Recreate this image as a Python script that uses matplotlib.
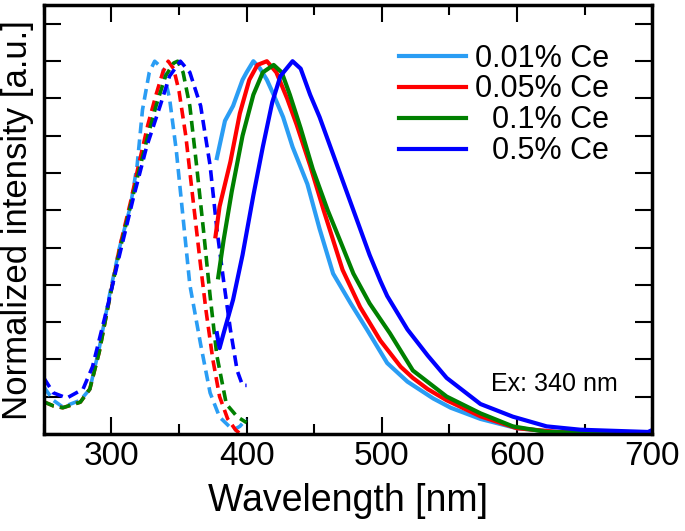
import matplotlib
matplotlib.use("Agg")
import matplotlib.pyplot as plt
from matplotlib.ticker import MultipleLocator

plt.rcParams['font.family'] = ['Liberation Sans', 'DejaVu Sans']

labels = ['0.01% Ce', '0.05% Ce', '  0.1% Ce', '  0.5% Ce']
colors = ['#2a9df4', '#ff0000', '#008000', '#0000ff']

# excitation spectra (dashed)
ex_x = [
    [250, 257, 264, 277, 284, 291, 299, 306, 314, 319, 323, 328, 332, 338, 343,
     348, 353, 358, 366, 373, 380, 390, 395, 400],
    [250, 257, 264, 277, 284, 291, 299, 306, 314, 320, 327, 333, 338, 342, 346,
     350, 355, 360, 366, 370, 375, 380, 386, 392, 397],
    [250, 257, 264, 277, 284, 291, 299, 306, 314, 320, 327, 333, 340, 346, 349,
     353, 358, 363, 368, 373, 378, 385, 393, 400],
    [250, 257, 267, 279, 286, 297, 306, 316, 326, 336, 343, 351, 358, 366, 373,
     378, 383, 388, 393, 397, 400],
]
ex_y = [
    [0.126, 0.09, 0.072, 0.09, 0.12, 0.23, 0.38, 0.50, 0.61, 0.72, 0.87, 0.97,
     1.0, 0.98, 0.90, 0.76, 0.58, 0.40, 0.24, 0.11, 0.045, 0.01, 0.02, 0.04],
    [0.086, 0.075, 0.07, 0.085, 0.12, 0.22, 0.37, 0.50, 0.62, 0.72, 0.83, 0.91,
     0.97, 1.0, 0.98, 0.92, 0.80, 0.64, 0.45, 0.33, 0.20, 0.10, 0.04, 0.01, -0.005],
    [0.086, 0.075, 0.07, 0.085, 0.12, 0.22, 0.37, 0.49, 0.61, 0.70, 0.80, 0.88,
     0.96, 0.995, 1.0, 0.97, 0.88, 0.72, 0.55, 0.37, 0.21, 0.08, 0.046, 0.03],
    [0.15, 0.11, 0.096, 0.12, 0.18, 0.34, 0.48, 0.63, 0.77, 0.88, 0.96, 1.0,
     0.97, 0.88, 0.72, 0.55, 0.41, 0.28, 0.17, 0.13, 0.13],
]

# emission spectra (solid)
em_x = [
    [378, 384, 390, 397, 400, 405, 410, 415, 420, 427, 434, 445, 454, 464, 477,
     489, 504, 519, 538, 551, 573, 600, 630, 660, 700],
    [377, 380, 388, 395, 402, 408, 415, 422, 430, 437, 447, 457, 464, 471, 484,
     499, 514, 523, 534, 548, 573, 600, 630, 700],
    [379, 383, 389, 397, 405, 412, 420, 426, 432, 440, 449, 460, 469, 479, 491,
     506, 523, 548, 573, 597, 622, 700],
    [378, 380, 383, 390, 397, 405, 412, 419, 425, 434, 440, 447, 454, 464, 474,
     484, 491, 499, 504, 519, 534, 548, 573, 597, 622, 647, 697, 700],
]
em_y = [
    [0.74, 0.84, 0.88, 0.95, 0.97, 1.0, 0.98, 0.95, 0.91, 0.85, 0.77, 0.67, 0.55,
     0.43, 0.35, 0.28, 0.19, 0.14, 0.095, 0.07, 0.04, 0.015, 0.005, 0.0, 0.0],
    [0.53, 0.61, 0.73, 0.86, 0.95, 0.99, 1.0, 0.97, 0.90, 0.83, 0.72, 0.60, 0.52,
     0.44, 0.34, 0.25, 0.18, 0.15, 0.12, 0.09, 0.047, 0.015, 0.005, 0.0],
    [0.42, 0.52, 0.65, 0.80, 0.91, 0.97, 0.99, 0.97, 0.91, 0.82, 0.71, 0.60, 0.52,
     0.43, 0.35, 0.27, 0.17, 0.10, 0.055, 0.02, 0.005, 0.0],
    [0.27, 0.23, 0.27, 0.36, 0.48, 0.64, 0.77, 0.89, 0.96, 1.0, 0.98, 0.91, 0.85,
     0.75, 0.65, 0.55, 0.48, 0.41, 0.37, 0.28, 0.21, 0.15, 0.08, 0.046, 0.02,
     0.011, 0.005, 0.01],
]

fig = plt.figure(figsize=(6.85, 5.31), dpi=100)
ax = fig.add_axes([0.064, 0.183, 0.888, 0.807])

for i in range(4):
    ax.plot(ex_x[i], ex_y[i], color=colors[i], lw=2.6, linestyle=(0, (3, 1.7)))
for i in range(4):
    ax.plot(em_x[i], em_y[i], color=colors[i], lw=3, label=labels[i])

ax.set_xlim(250, 700)
ax.set_ylim(0, 1.15)
ax.xaxis.set_major_locator(MultipleLocator(100))
ax.xaxis.set_minor_locator(MultipleLocator(50))
ax.yaxis.set_major_locator(MultipleLocator(0.1))
ax.set_yticklabels([])
ax.tick_params(which='both', direction='in', top=True, right=True, width=1.5)
ax.tick_params(which='major', length=12, labelsize=24, pad=5)
ax.tick_params(which='minor', length=7)
for s in ax.spines.values():
    s.set_linewidth(2.5)

ax.set_xlabel('Wavelength [nm]', fontsize=27, labelpad=8)
ax.set_ylabel('Normalized intensity [a.u.]', fontsize=25, labelpad=2)

ax.legend(loc='upper right', bbox_to_anchor=(0.975, 0.975), frameon=False,
          fontsize=22, handlelength=2.2, handletextpad=0.3, labelspacing=0.03)
ax.text(0.944, 0.117, 'Ex: 340 nm', transform=ax.transAxes, ha='right',
        va='center', fontsize=18)

fig.savefig('out.png', dpi=100)
